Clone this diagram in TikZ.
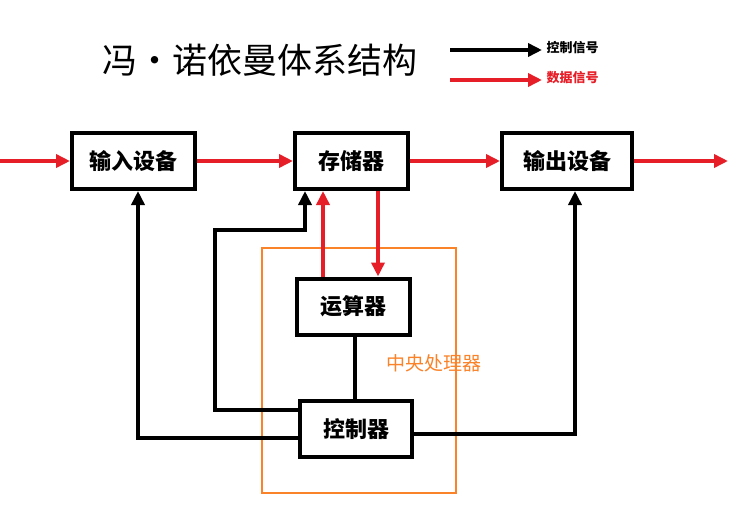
\documentclass[tikz,border=0pt]{standalone}
\usepackage{fontspec}
\setmainfont{Noto Sans CJK SC}
\usetikzlibrary{arrows.meta}
\definecolor{myred}{RGB}{230,30,40}
\definecolor{myorange}{RGB}{250,130,40}
\begin{document}
\begin{tikzpicture}[x=1pt,y=-1pt,
  box/.style={draw,line width=4pt,minimum width=#1,minimum height=56pt,inner sep=0pt,font=\fontsize{22}{24}\selectfont\bfseries},
  box/.default=116pt,
  data/.style={draw=myred,line width=4pt,-{Triangle[length=14pt,width=13pt]}},
  ctrl/.style={draw=black,line width=4pt,-{Triangle[length=14pt,width=13pt]}},
  ctrlline/.style={draw=black,line width=4pt}]
\useasboundingbox (0,0) rectangle (744,509);
\node[font=\fontsize{35}{38}\selectfont] (title) at (260,60) {冯·诺依曼体系结构};
\coordinate (l1a) at (450,50); \coordinate (l1b) at (542,50);
\coordinate (l2a) at (450,80); \coordinate (l2b) at (542,80);
\draw[ctrl] (l1a) -- (l1b);
\draw[data] (l2a) -- (l2b);
\node[anchor=west,font=\fontsize{13}{14}\selectfont\bfseries] (lt1) at (543,48) {控制信号};
\node[anchor=west,font=\fontsize{13}{14}\selectfont\bfseries,text=myred] (lt2) at (543,78) {数据信号};
\node[draw=myorange,line width=2.5pt,minimum width=194pt,minimum height=245pt] (cpu) at (359,370.5) {};
\node[text=myorange,font=\fontsize{19}{20}\selectfont] (cpul) at (434,363) {中央处理器};
\node[box=123pt] (in) at (133.5,161) {输入设备};
\node[box=113pt] (mem) at (351.5,161) {存储器};
\node[box=130pt] (out) at (567,161) {输出设备};
\node[box=113pt] (alu) at (353.5,306.5) {运算器};
\node[box=112pt] (cu) at (356,429) {控制器};
\coordinate (src) at (0,161);
\coordinate (dst) at (728,161);
\draw[data] (src) -- (in.west);
\draw[data] (in.east) -- (mem.west);
\draw[data] (mem.east) -- (out.west);
\draw[data] (out.east) -- (dst);
\draw[data] (alu.north -| 323,0) -- (mem.south -| 323,0);
\draw[data] (mem.south -| 378,0) -- (alu.north -| 378,0);
\draw[ctrlline] (alu.south -| 355,0) -- (cu.north -| 355,0);
\draw[ctrl] (cu.west |- 0,438) -- (138,438) -- (in.south -| 138,0);
\draw[ctrl] (cu.west |- 0,410) -- (215,410) -- (215,230) -- (305,230) -- (mem.south -| 305,0);
\draw[ctrl] (cu.east |- 0,434) -- (575,434) -- (out.south -| 575,0);
\end{tikzpicture}
\end{document}
